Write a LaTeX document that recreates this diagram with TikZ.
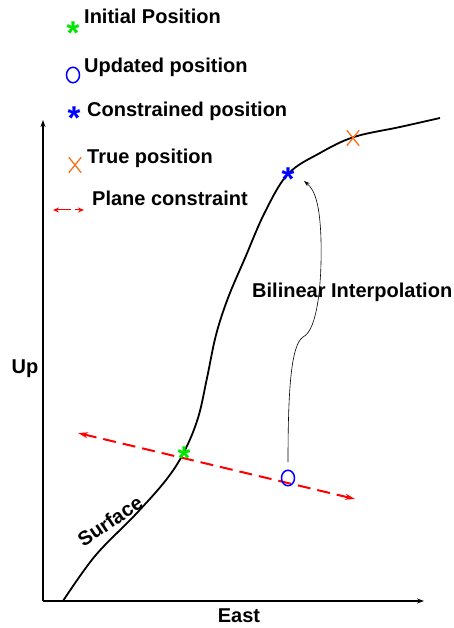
\documentclass[tikz,border=0pt]{standalone}
\usepackage{fontspec}
\setmainfont{Liberation Sans}
\usetikzlibrary{arrows.meta,shapes.geometric}
\definecolor{mgreen}{RGB}{0,230,0}
\definecolor{mblue}{RGB}{0,0,255}
\definecolor{morange}{RGB}{255,110,20}
\definecolor{mred}{RGB}{255,0,0}
\tikzset{
  lbl/.style={font=\fontsize{20}{24}\selectfont\bfseries, inner sep=0pt},
  leg/.style={lbl, anchor=base west},
  starmark/.style={font=\fontsize{33}{35}\selectfont\bfseries, inner sep=0pt, anchor=base},
  omark/.style={draw=mblue, ellipse, line width=1.5pt, minimum width=13pt, minimum height=15.5pt, inner sep=0pt},
  xmark/.style={draw=none, minimum width=12pt, minimum height=15pt, inner sep=0pt},
  axis/.style={line width=1.5pt, -{Stealth[length=7pt,width=5pt]}},
  planec/.style={mred, line width=2pt, dash pattern=on 13pt off 7pt, {Stealth[length=10pt,width=6pt]}-{Stealth[length=10pt,width=6pt]}},
}
\begin{document}
\begin{tikzpicture}[x=1pt,y=-1pt]
\useasboundingbox (0,0) rectangle (453,628);
% axes
\coordinate (o) at (43,601);
\coordinate (ytop) at (43,120);
\coordinate (xend) at (424,601);
\draw[axis] (o) -- (ytop);
\draw[axis] (o) -- (xend);
\node[lbl] (up) at (25,369) {Up};
\node[lbl] (east) at (239,616) {East};
% surface
\draw[line width=1.8pt] plot[smooth, tension=0.6] coordinates {(63,601) (95,556) (135,515) (166,480) (184,452) (198,418) (207,378) (216,335) (228,298) (245,258) (265,212) (288,174) (320,153) (354,137) (400,127) (440,118)};
\node[lbl, rotate=34] (surf) at (110,521) {Surface};
% plane constraint
\coordinate (pa) at (355,499);
\coordinate (pb) at (78,433);
\draw[planec] (pb) -- (pa);
% markers on plot
\node[starmark, text=mgreen] (ini) at (184,469) {*};
\node[omark] (upd) at (288,478) {};
\node[starmark, text=mblue] (con) at (288,191) {*};
\node[xmark] (tru) at (353,138) {};
\draw[morange, line width=1.3pt] (tru.north west) -- (tru.south east) (tru.north east) -- (tru.south west);
% bilinear interpolation arrow
\coordinate (bs) at (288,462);
\coordinate (bm) at (303,337);
\coordinate (be) at (304,181);
\draw[line width=0.6pt, -{Stealth[length=6pt,width=4pt]}] (bs) .. controls (288,390) and (291,345) .. (bm) .. controls (318,330) and (322,280) .. (321,240) .. controls (320,205) and (315,190) .. (be);
\node[lbl, anchor=west] (bil) at (252,292) {Bilinear Interpolation};
% legend
\node[starmark, text=mgreen] (lini) at (73,45) {*};
\node[leg] (tini) at (84,24) {Initial Position};
\node[omark] (lupd) at (73,75) {};
\node[leg] (tupd) at (84,73) {Updated position};
\node[starmark, text=mblue] (lcon) at (74,130) {*};
\node[leg] (tcon) at (87,117) {Constrained position};
\node[xmark] (ltru) at (75,165) {};
\draw[morange, line width=1.3pt] (ltru.north west) -- (ltru.south east) (ltru.north east) -- (ltru.south west);
\node[leg] (ttru) at (87,164) {True position};
\coordinate (la) at (53,210);
\coordinate (lb) at (84,210);
\draw[mred, line width=1pt, dash pattern=on 14pt off 4pt, {Stealth[length=6pt,width=5pt]}-{Stealth[length=6pt,width=5pt]}] (la) -- (lb);
\node[leg] (tpla) at (92,206) {Plane constraint};
\end{tikzpicture}
\end{document}
